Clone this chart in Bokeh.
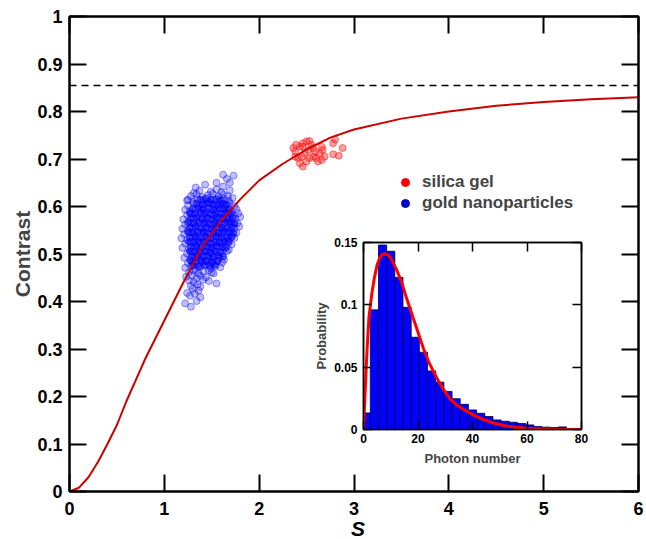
from bokeh.plotting import figure
from bokeh.models import (Range1d, LinearAxis, FixedTicker, CustomJSTickFormatter,
                          CustomLabelingPolicy, Legend, LegendItem, Span, Div)
from bokeh.layouts import column
from bokeh.embed import file_html
from bokeh.resources import INLINE

FONT = "Liberation Sans"

# ---------------- data ----------------
# theoretical contrast curve C(S)
curve_s = [0, 0.1, 0.2, 0.3, 0.4, 0.5, 0.6, 0.7, 0.8, 0.9, 1.0, 1.1, 1.2, 1.4, 1.6, 1.8,
           2.0, 2.25, 2.5, 2.75, 3.0, 3.5, 4.0, 4.5, 5.0, 5.5, 6.0]
curve_c = [0, 0.008, 0.03, 0.062, 0.1, 0.14, 0.19, 0.235, 0.28, 0.32, 0.36, 0.40, 0.44,
           0.515, 0.57, 0.615, 0.655, 0.69, 0.72, 0.745, 0.762, 0.785, 0.80, 0.812, 0.82,
           0.826, 0.83]
asymptote = 0.855

silica_s = [2.36, 2.39, 2.38, 2.43, 2.46, 2.50, 2.53, 2.55, 2.52, 2.48, 2.45, 2.41, 2.43,
            2.46, 2.50, 2.57, 2.60, 2.64, 2.66, 2.67, 2.66, 2.62, 2.59, 2.78, 2.80, 2.88,
            2.78, 2.84, 2.46, 2.57, 2.38, 2.53, 2.69]
silica_c = [0.723, 0.730, 0.716, 0.726, 0.733, 0.737, 0.738, 0.730, 0.719, 0.712, 0.705,
            0.702, 0.691, 0.684, 0.695, 0.705, 0.702, 0.712, 0.726, 0.719, 0.698, 0.695,
            0.716, 0.733, 0.741, 0.723, 0.710, 0.707, 0.726, 0.723, 0.705, 0.702, 0.705]

# gold nanoparticles: whole cloud
gold_s = [1.28, 1.22, 1.34, 1.27, 1.38, 1.24, 1.32, 1.36, 1.30, 1.28, 1.35, 1.38, 1.55,
          1.26, 1.31, 1.41, 1.47, 1.23, 1.29, 1.34, 1.38, 1.44, 1.52,
          1.26, 1.31, 1.36, 1.41, 1.47, 1.50,
          1.22, 1.28, 1.33, 1.38, 1.43, 1.49, 1.54, 1.59,
          1.25, 1.30, 1.35, 1.40, 1.46, 1.51, 1.56, 1.61,
          1.21, 1.27, 1.32, 1.37, 1.42, 1.48, 1.53, 1.58, 1.63,
          1.24, 1.29, 1.34, 1.39, 1.45, 1.50, 1.55, 1.61, 1.66,
          1.19, 1.26, 1.31, 1.36, 1.42, 1.47, 1.52, 1.58, 1.63, 1.68,
          1.22, 1.28, 1.33, 1.39, 1.44, 1.50, 1.55, 1.60, 1.66, 1.71,
          1.18, 1.24, 1.30, 1.35, 1.41, 1.46, 1.52, 1.57, 1.63, 1.68, 1.74,
          1.21, 1.27, 1.32, 1.38, 1.43, 1.49, 1.54, 1.60, 1.65, 1.71, 1.76,
          1.19, 1.25, 1.30, 1.36, 1.41, 1.47, 1.52, 1.58, 1.63, 1.69, 1.74, 1.79,
          1.22, 1.28, 1.33, 1.39, 1.45, 1.50, 1.56, 1.61, 1.67, 1.72, 1.77,
          1.20, 1.26, 1.31, 1.37, 1.43, 1.48, 1.54, 1.59, 1.65, 1.70, 1.75, 1.80,
          1.24, 1.29, 1.35, 1.41, 1.46, 1.52, 1.57, 1.63, 1.68, 1.73, 1.78,
          1.22, 1.27, 1.33, 1.39, 1.44, 1.50, 1.55, 1.61, 1.66, 1.71, 1.76,
          1.25, 1.31, 1.37, 1.42, 1.48, 1.53, 1.59, 1.64, 1.69, 1.74,
          1.24, 1.30, 1.35, 1.41, 1.47, 1.52, 1.58, 1.63, 1.68, 1.72,
          1.28, 1.34, 1.40, 1.46, 1.51, 1.57, 1.62, 1.67,
          1.25, 1.31, 1.37, 1.49, 1.55, 1.60, 1.69,
          1.43, 1.55, 1.69, 1.33, 1.62, 1.62, 1.73, 1.66]
gold_c = [0.389, 0.396, 0.401, 0.412, 0.409, 0.418, 0.417, 0.423, 0.427, 0.433, 0.436, 0.431, 0.438,
          0.444, 0.441, 0.446, 0.443, 0.452, 0.455, 0.449, 0.454, 0.451, 0.459,
          0.462, 0.465, 0.459, 0.463, 0.466, 0.461,
          0.471, 0.474, 0.468, 0.473, 0.476, 0.470, 0.475, 0.472,
          0.481, 0.484, 0.479, 0.483, 0.486, 0.480, 0.485, 0.482,
          0.492, 0.489, 0.494, 0.491, 0.496, 0.490, 0.495, 0.492, 0.488,
          0.501, 0.505, 0.499, 0.503, 0.506, 0.500, 0.504, 0.501, 0.506,
          0.513, 0.510, 0.515, 0.512, 0.509, 0.514, 0.511, 0.516, 0.512, 0.509,
          0.522, 0.526, 0.520, 0.524, 0.527, 0.521, 0.525, 0.522, 0.527, 0.520,
          0.533, 0.530, 0.535, 0.532, 0.529, 0.534, 0.531, 0.536, 0.532, 0.529, 0.534,
          0.542, 0.546, 0.540, 0.544, 0.547, 0.541, 0.545, 0.542, 0.547, 0.540, 0.545,
          0.553, 0.550, 0.555, 0.552, 0.549, 0.554, 0.551, 0.556, 0.552, 0.549, 0.554, 0.558,
          0.562, 0.566, 0.560, 0.564, 0.567, 0.561, 0.565, 0.562, 0.567, 0.561, 0.565,
          0.573, 0.570, 0.575, 0.572, 0.569, 0.574, 0.571, 0.576, 0.572, 0.569, 0.574, 0.578,
          0.582, 0.586, 0.580, 0.584, 0.587, 0.581, 0.585, 0.582, 0.587, 0.581, 0.586,
          0.593, 0.590, 0.595, 0.592, 0.589, 0.594, 0.591, 0.596, 0.592, 0.589, 0.594,
          0.602, 0.606, 0.600, 0.604, 0.607, 0.601, 0.605, 0.602, 0.607, 0.601,
          0.613, 0.610, 0.615, 0.612, 0.609, 0.614, 0.611, 0.616, 0.612, 0.618,
          0.622, 0.626, 0.620, 0.624, 0.627, 0.621, 0.625, 0.622,
          0.614, 0.628, 0.633, 0.631, 0.636, 0.630, 0.634,
          0.646, 0.650, 0.650, 0.640, 0.642, 0.667, 0.665, 0.658]
# gold nanoparticles: additional points in the dense core of the cloud
gold_core_s = [1.30, 1.36, 1.42, 1.48, 1.53,
               1.28, 1.33, 1.39, 1.44, 1.50, 1.56,
               1.29, 1.35, 1.40, 1.46, 1.51, 1.57, 1.62,
               1.27, 1.32, 1.37, 1.43, 1.48, 1.53, 1.59,
               1.28, 1.34, 1.39, 1.45, 1.50, 1.55, 1.61, 1.65,
               1.26, 1.31, 1.36, 1.42, 1.47, 1.53, 1.58, 1.63, 1.68,
               1.27, 1.33, 1.38, 1.44, 1.49, 1.55, 1.60, 1.66, 1.71,
               1.25, 1.30, 1.35, 1.41, 1.46, 1.52, 1.57, 1.62, 1.68, 1.73,
               1.27, 1.33, 1.39, 1.44, 1.50, 1.55, 1.61, 1.66, 1.71,
               1.25, 1.31, 1.36, 1.42, 1.47, 1.53, 1.58, 1.64, 1.69, 1.74,
               1.28, 1.34, 1.40, 1.45, 1.51, 1.56, 1.62, 1.67, 1.72,
               1.27, 1.32, 1.38, 1.43, 1.49, 1.54, 1.60, 1.65, 1.70,
               1.30, 1.36, 1.41, 1.47, 1.52, 1.58, 1.63, 1.68,
               1.34, 1.40, 1.45, 1.51, 1.56, 1.62, 1.66,
               1.38, 1.44, 1.49, 1.55, 1.60]
gold_core_c = [0.476, 0.474, 0.478, 0.475, 0.477,
               0.486, 0.484, 0.487, 0.485, 0.483, 0.486,
               0.495, 0.497, 0.494, 0.496, 0.493, 0.497, 0.495,
               0.506, 0.504, 0.507, 0.505, 0.503, 0.506, 0.504,
               0.515, 0.517, 0.514, 0.516, 0.513, 0.517, 0.515, 0.514,
               0.526, 0.524, 0.527, 0.525, 0.523, 0.526, 0.524, 0.527, 0.525,
               0.535, 0.537, 0.534, 0.536, 0.533, 0.537, 0.535, 0.534, 0.536,
               0.546, 0.544, 0.547, 0.545, 0.543, 0.546, 0.544, 0.547, 0.545, 0.544,
               0.555, 0.557, 0.554, 0.556, 0.553, 0.557, 0.555, 0.554, 0.556,
               0.566, 0.564, 0.567, 0.565, 0.563, 0.566, 0.564, 0.567, 0.565, 0.564,
               0.575, 0.577, 0.574, 0.576, 0.573, 0.577, 0.575, 0.574, 0.576,
               0.586, 0.584, 0.587, 0.585, 0.583, 0.586, 0.584, 0.587, 0.585,
               0.595, 0.597, 0.594, 0.596, 0.593, 0.597, 0.595, 0.594,
               0.606, 0.604, 0.607, 0.605, 0.603, 0.606, 0.604,
               0.615, 0.617, 0.614, 0.616, 0.613]

legend_labels = ["silica gel", "gold nanoparticles"]
x_title = "S"
y_title = "Contrast"

# inset: photon number histogram and fitted distribution
hist_centers = [1, 4, 7, 10, 13, 16, 19, 22, 25, 28, 31, 34, 37, 40, 43, 46, 49, 52, 55,
                58, 61, 64, 67, 70, 73, 76, 79]
hist_probs = [0.0133, 0.096, 0.148, 0.143, 0.122, 0.098, 0.074, 0.062, 0.047, 0.038,
              0.0305, 0.0247, 0.0202, 0.0157, 0.013, 0.0104, 0.0077, 0.0066, 0.0058,
              0.0048, 0.0037, 0.0024, 0.0019, 0.0016, 0.0021, 0.0008, 0.0005]
bin_width = 3
fit_n = [0, 0.5, 1, 1.5, 2, 3, 4, 5, 6, 7, 8, 9, 10, 12, 14, 16, 18, 20, 22, 24, 26, 28,
         30, 32, 34, 36, 38, 40, 44, 48, 52, 56, 60, 66, 72, 80]
fit_p = [0, 0.025, 0.05, 0.072, 0.09, 0.108, 0.122, 0.132, 0.138, 0.1405, 0.141, 0.140,
         0.1375, 0.129, 0.118, 0.104, 0.091, 0.078, 0.065, 0.054, 0.045, 0.037, 0.030,
         0.024, 0.02, 0.017, 0.0145, 0.012, 0.008, 0.005, 0.003, 0.0018, 0.001, 0.0004,
         0.0002, 0.0001]

main_xticks = [0, 1, 2, 3, 4, 5, 6]
main_yticks = [0, 0.1, 0.2, 0.3, 0.4, 0.5, 0.6, 0.7, 0.8, 0.9, 1.0]
inset_xticks = [0, 20, 40, 60, 80]
inset_yticks = [0, 0.05, 0.1, 0.15]

fmt_code = "return String(Number(tick.toFixed(3)));"

# layout constants (px)
W, H = 646, 539
BL, BR, BT, BB = 69, 8, 16, 48          # main borders
INS_FW, INS_FH = 218, 188                # inset frame size
INS_BT, INS_BB = 8, 38                   # inset top / bottom borders
INS_LEFT = 363 - BL                      # inset frame left at x=363
INS_TOP = 242 - INS_BT                   # inset frame top at y=242
XT_W = 30                                # box for the x-axis title
XT_LEFT = BL + (W - BL - BR) // 2 - XT_W // 2
XT_TOP = 513

# ---------------- main figure ----------------
p = figure(width=W, height=H, x_range=Range1d(0, 6), y_range=Range1d(0, 1),
           output_backend="svg", toolbar_location=None,
           min_border_left=BL, min_border_right=BR, min_border_top=BT, min_border_bottom=BB)
p.xgrid.visible = False
p.ygrid.visible = False
p.outline_line_color = "black"
p.outline_line_width = 2
p.background_fill_color = "white"
p.border_fill_color = "white"

hide_policy = CustomLabelingPolicy(code="for (const i of Array.from(indices)) indices.unset(i); return indices")


def style_axis(ax, ticks, tick_len, show_labels, font_size="18px", lw=2):
    ax.ticker = FixedTicker(ticks=ticks)
    ax.major_tick_in = tick_len
    ax.major_tick_out = 0
    ax.minor_tick_line_color = None
    ax.axis_line_color = "black"
    ax.axis_line_width = lw
    ax.major_tick_line_width = lw
    ax.major_tick_line_color = "black"
    if show_labels:
        ax.formatter = CustomJSTickFormatter(code=fmt_code)
        ax.major_label_text_font = FONT
        ax.major_label_text_font_style = "bold"
        ax.major_label_text_font_size = font_size
        ax.major_label_text_color = "black"
    else:
        ax.formatter = CustomJSTickFormatter(code="return '';")
        ax.major_label_policy = hide_policy
        ax.major_label_standoff = 0


xa = p.xaxis[0]
ya = p.yaxis[0]
style_axis(xa, main_xticks, 17, True)
style_axis(ya, main_yticks, 17, True)
xa.major_label_standoff = 10
ya.major_label_standoff = 7
ya.axis_label = y_title
ya.axis_label_text_font = FONT
ya.axis_label_text_font_style = "bold"
ya.axis_label_text_font_size = "21px"
ya.axis_label_standoff = 0

top_ax = LinearAxis()
style_axis(top_ax, main_xticks, 17, False)
p.add_layout(top_ax, "above")
right_ax = LinearAxis()
style_axis(right_ax, main_yticks, 17, False)
p.add_layout(right_ax, "right")

p.add_layout(Span(location=asymptote, dimension="width", line_color="black",
                  line_width=1.5, line_dash="7 5"))

p.scatter(gold_s, gold_c, size=7, fill_color="#0000ff", fill_alpha=0.25,
          line_color="#0000ff", line_alpha=0.4, line_width=1)
p.scatter(gold_core_s, gold_core_c, size=7, fill_color="#0000ff", fill_alpha=0.55,
          line_color="#0000ff", line_alpha=0.5, line_width=1)
p.scatter(silica_s, silica_c, size=7, fill_color="#ff2020", fill_alpha=0.42,
          line_color="#ff0000", line_alpha=0.45, line_width=1)
p.line(curve_s, curve_c, line_color="#cc0000", line_width=2)

# legend proxies: solid dots, hidden on the plot itself
leg_r1 = p.scatter(silica_s[:1], silica_c[:1], fill_color="#ff0000", line_color="#ff0000",
                   visible=False)
leg_r2 = p.scatter(gold_s[:1], gold_c[:1], fill_color="#0000cc", line_color="#0000cc",
                   visible=False)
legend = Legend(items=[LegendItem(label=legend_labels[0], renderers=[leg_r1]),
                       LegendItem(label=legend_labels[1], renderers=[leg_r2])],
                location=(326, 278), border_line_color=None, background_fill_alpha=0,
                inactive_fill_alpha=0,
                label_text_font=FONT, label_text_font_style="bold",
                label_text_font_size="17px", glyph_width=20, glyph_height=20,
                spacing=1, padding=0, margin=0, label_standoff=7, click_policy="none")
p.add_layout(legend)

# ---------------- inset figure ----------------
ins = figure(width=BL + INS_FW + BR, height=INS_BT + INS_FH + INS_BB,
             x_range=Range1d(0, 80), y_range=Range1d(0, 0.15),
             output_backend="svg", toolbar_location=None,
             min_border_left=BL, min_border_right=BR, min_border_top=INS_BT,
             min_border_bottom=INS_BB)
ins.background_fill_alpha = 0
ins.border_fill_alpha = 0
ins.xgrid.visible = False
ins.ygrid.visible = False
ins.outline_line_color = "black"
ins.outline_line_width = 1.5

ins.vbar(x=hist_centers, top=hist_probs, width=bin_width, fill_color="#0000ff",
         line_color="#000040", line_width=0.8)
ins.line(fit_n, fit_p, line_color="#ff0000", line_width=3)

ixa = ins.xaxis[0]
iya = ins.yaxis[0]
style_axis(ixa, inset_xticks, 8, True, "12px", 1.5)
style_axis(iya, inset_yticks, 8, True, "12px", 1.5)
ixa.major_label_standoff = 4
iya.major_label_standoff = 6
ixa.axis_label = "Photon number"
iya.axis_label = "Probability"
for ax in (ixa, iya):
    ax.axis_label_text_font = FONT
    ax.axis_label_text_font_style = "bold"
    ax.axis_label_text_font_size = "13px"
ixa.axis_label_standoff = 5
iya.axis_label_standoff = 2
itop = LinearAxis()
style_axis(itop, inset_xticks, 9, False, lw=1.5)
ins.add_layout(itop, "above")
iright = LinearAxis()
style_axis(iright, inset_yticks, 9, False, lw=1.5)
ins.add_layout(iright, "right")

ins.styles = {"position": "absolute", "left": f"{INS_LEFT}px", "top": f"{INS_TOP}px",
              "z-index": "5"}

# x-axis title "S" (bold italic), placed under the tick labels
xtitle = Div(text=x_title, width=XT_W, height=24,
             styles={"position": "absolute", "left": f"{XT_LEFT}px", "top": f"{XT_TOP}px",
                     "font-family": FONT, "font-weight": "bold", "font-style": "italic",
                     "font-size": "21px", "line-height": "21px", "text-align": "center",
                     "color": "black", "z-index": "6", "overflow": "visible"})

root = column(p, ins, xtitle, styles={"position": "relative"})

open("out.html", "w").write(file_html(root, INLINE))
